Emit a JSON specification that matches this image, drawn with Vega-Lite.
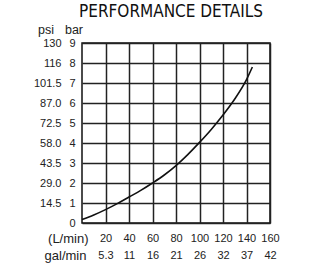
{
  "$schema": "https://vega.github.io/schema/vega-lite/v6.json",
  "width": 188,
  "height": 180,
  "autosize": "none",
  "padding": {"left": 82, "top": 43, "right": 60, "bottom": 57},
  "title": {
    "text": "PERFORMANCE DETAILS",
    "frame": "group",
    "anchor": "middle",
    "offset": -11,
    "baseline": "alphabetic",
    "fontSize": 17,
    "font": "Liberation Sans Narrow, DejaVu Sans Condensed, DejaVu Sans",
    "fontWeight": "normal",
    "color": "#111",
    "dx": -5
  },
  "config": {
    "view": {"stroke": "#111", "strokeWidth": 1.5},
    "axis": {
      "labelFont": "Liberation Sans Narrow, Liberation Sans",
      "labelFontSize": 11,
      "labelColor": "#222",
      "labelOverlap": false,
      "labelFlush": false,
      "titleFont": "Liberation Sans Narrow, Liberation Sans",
      "titleFontSize": 13,
      "titleFontWeight": "normal",
      "titleColor": "#222",
      "ticks": false,
      "domain": false,
      "grid": false
    }
  },
  "data": {
    "values": [
      {"L": 0, "bar": 0.17},
      {"L": 10, "bar": 0.4},
      {"L": 20, "bar": 0.67},
      {"L": 30, "bar": 0.97},
      {"L": 40, "bar": 1.3},
      {"L": 50, "bar": 1.63},
      {"L": 60, "bar": 2.0},
      {"L": 70, "bar": 2.4},
      {"L": 80, "bar": 2.87},
      {"L": 90, "bar": 3.42},
      {"L": 100, "bar": 4.03},
      {"L": 110, "bar": 4.68},
      {"L": 120, "bar": 5.4},
      {"L": 130, "bar": 6.2},
      {"L": 140, "bar": 7.17},
      {"L": 145, "bar": 7.8}
    ]
  },
  "layer": [
    {
      "mark": {"type": "line", "interpolate": "monotone", "color": "#111", "strokeWidth": 1.6},
      "encoding": {
        "x": {
          "field": "L", "type": "quantitative",
          "scale": {"domain": [0, 160], "nice": false},
          "axis": {
            "orient": "bottom",
            "values": [20, 40, 60, 80, 100, 120, 140, 160],
            "grid": true, "gridColor": "#222", "gridWidth": 1.5, "gridOpacity": 1,
            "labelPadding": 15, "labelBaseline": "middle",
            "title": "(L/min)", "titleX": 6, "titleY": 15,
            "titleAlign": "right", "titleBaseline": "middle"
          }
        },
        "y": {
          "field": "bar", "type": "quantitative",
          "scale": {"domain": [0, 9], "nice": false},
          "axis": {
            "orient": "left",
            "values": [0, 1, 2, 3, 4, 5, 6, 7, 8, 9],
            "grid": true, "gridColor": "#222", "gridWidth": 1.5, "gridOpacity": 1,
            "labelPadding": 7,
            "title": "bar", "titleFontSize": 12.5, "titleAngle": 0, "titleX": -8.5, "titleY": -10,
            "titleAlign": "center", "titleBaseline": "alphabetic"
          }
        }
      }
    },
    {
      "mark": {"type": "point", "opacity": 0},
      "encoding": {
        "x": {
          "field": "L", "type": "quantitative",
          "scale": {"domain": [0, 160], "nice": false},
          "axis": {
            "orient": "bottom",
            "values": [20, 40, 60, 80, 100, 120, 140, 160],
            "labelExpr": "['', '5.3', '11', '16', '21', '26', '32', '37', '42'][datum.value / 20]",
            "labelPadding": 32, "labelBaseline": "middle",
            "title": "gal/min", "titleX": 4, "titleY": 32,
            "titleAlign": "right", "titleBaseline": "middle"
          }
        },
        "y": {
          "field": "bar", "type": "quantitative",
          "scale": {"domain": [0, 9], "nice": false},
          "axis": {
            "orient": "left",
            "values": [1, 2, 3, 4, 5, 6, 7, 8, 9],
            "labelExpr": "['', '14.5', '29.0', '43.5', '58.0', '72.5', '87.0', '101.5', '116', '130'][datum.value]",
            "labelPadding": 21,
            "title": "psi", "titleFontSize": 12.5, "titleAngle": 0, "titleX": -36.5, "titleY": -10,
            "titleAlign": "center", "titleBaseline": "alphabetic"
          }
        }
      }
    }
  ],
  "resolve": {"axis": {"x": "independent", "y": "independent"}}
}
